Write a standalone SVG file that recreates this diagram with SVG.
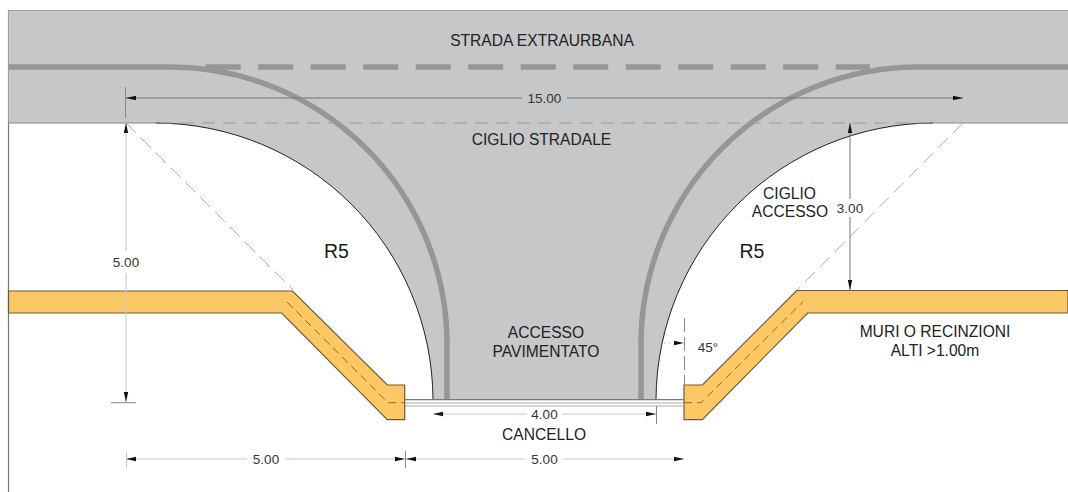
<svg xmlns="http://www.w3.org/2000/svg" width="1068" height="492" viewBox="0 0 1068 492">
<defs>
<marker id="ah" markerUnits="userSpaceOnUse" markerWidth="10" markerHeight="6" refX="10" refY="3" orient="auto-start-reverse"><path d="M10 3 L0 0.8 L0 5.200 Z" fill="#111"/></marker>
</defs>
<style>
.t{font-family:"Liberation Sans",Arial,sans-serif;font-size:15.600px;fill:#222;text-anchor:middle}
.d{font-size:13.500px;fill:#333}
.r{font-size:19.500px;fill:#1a1a1a}
.mark{fill:none;stroke:#959698;stroke-width:5.500}
.dim{fill:none;stroke:#777;stroke-width:1}
.lt{fill:none;stroke:#c8c8c8;stroke-width:1}
.tick{fill:none;stroke:#888;stroke-width:1}
.dia{fill:none;stroke:#aaa;stroke-width:1;stroke-dasharray:14 7}
.wall{fill:#fdc765;stroke:#6d5a38;stroke-width:1.200;stroke-linejoin:miter}
.ax{fill:none;stroke:#7a5f2c;stroke-width:.9;stroke-dasharray:8 5}
.ed{fill:none;stroke:#222;stroke-width:1}
</style>
<rect width="1068" height="492" fill="#fff"/>
<path id="frame" d="M8.500 492V10.500H1068" fill="none" stroke="#777" stroke-width="1.200"/>
<g id="road">
<path d="M8.500 10.500H1068V123H933A278 278 0 0 0 656 399H433A278 278 0 0 0 156 123H8.500Z" fill="#c6c7c9"/>
<path class="ed" d="M933 123A278 278 0 0 0 656 399M433 399A278 278 0 0 0 156 123"/>
<path d="M8.500 123H156M933 123H1068" fill="none" stroke="#888" stroke-width="1"/>
<path d="M160 123H930" fill="none" stroke="#999" stroke-width="1" stroke-dasharray="13 8"/>
</g>
<g id="markings">
<path class="mark" d="M8.500 67H170A277 277 0 0 1 447 344V399"/>
<path class="mark" d="M1068 67H918A277 277 0 0 0 641 344V399"/>
<path class="mark" d="M205.700 67H870" stroke-dasharray="35 17.500"/>
</g>
<g id="wall-left">
<path class="wall" d="M8.500 291H292.500L387.300 385H404.700V419.700H387.300L281.700 313H8.500Z"/>
<path class="ax" d="M287 302L388 402.700H404.700"/>
</g>
<g id="wall-right">
<path class="wall" d="M1068 290.500H796.700L702.300 385H684V419.700H702.300L807.700 313H1068Z"/>
<path class="ax" d="M684 402.700H701L803 301.700"/>
</g>
<g id="gate">
<path d="M405 399.700H684" fill="none" stroke="#777" stroke-width="1.200"/>
<path d="M405 403H684M405 406H684" fill="none" stroke="#aaa" stroke-width="1"/>
</g>
<g id="connectors">
<path class="dia" d="M126 123L293 290"/>
<path class="dia" d="M963 123L797 290"/>
<path class="dim" d="M126 98H522" marker-start="url(#ah)"/>
<path class="dim" d="M567 98H963" marker-end="url(#ah)"/>
<path class="tick" d="M125.500 87V118"/>
<path class="lt" d="M126 123V251" marker-start="url(#ah)"/>
<path class="lt" d="M126 273V402" marker-end="url(#ah)"/>
<path class="tick" d="M111 402.700H136"/>
<path class="dim" d="M850 123V199" marker-start="url(#ah)"/>
<path class="dim" d="M850 217V290" marker-end="url(#ah)"/>
<path class="lt" d="M126 459H247" marker-start="url(#ah)"/>
<path class="lt" d="M285 459H405" marker-end="url(#ah)"/>
<path class="tick" d="M405.500 451V468"/>
<path class="lt" d="M406 459H525" marker-start="url(#ah)"/>
<path class="lt" d="M563 459H684" marker-end="url(#ah)"/>
<path class="lt" d="M126.500 452V468"/>
<path class="lt" d="M433 414H527" marker-start="url(#ah)"/>
<path class="lt" d="M562 414H656" marker-end="url(#ah)"/>
<path class="tick" d="M656.500 406V424"/>
<path class="tick" d="M684.500 318V385" stroke-dasharray="14 5"/>
<path class="lt" d="M664 343H676" stroke-dasharray="2 3"/>
<path d="M674 343H684" marker-end="url(#ah)" fill="none"/>
</g>
<g id="labels">
<text class="t" x="542" y="46">STRADA EXTRAURBANA</text>
<text class="t" x="541.500" y="145">CIGLIO STRADALE</text>
<text class="t" x="546" y="338">ACCESSO</text>
<text class="t" x="546" y="357">PAVIMENTATO</text>
<text class="t" x="544" y="440">CANCELLO</text>
<text class="t" x="789.500" y="199">CIGLIO</text>
<text class="t" x="790" y="217">ACCESSO</text>
<text class="t" x="935" y="336.700">MURI O RECINZIONI</text>
<text class="t" x="935" y="355.700">ALTI &gt;1.00m</text>
<text class="t r" x="336.500" y="258">R5</text>
<text class="t r" x="752" y="258">R5</text>
<text class="t d" x="544.500" y="103">15.00</text>
<text class="t d" x="126" y="267">5.00</text>
<text class="t d" x="850" y="212.500">3.00</text>
<text class="t d" x="266" y="464">5.00</text>
<text class="t d" x="544.500" y="464">5.00</text>
<text class="t d" x="544.500" y="419.300">4.00</text>
<text class="t d" x="708" y="352">45°</text>
</g>
</svg>
